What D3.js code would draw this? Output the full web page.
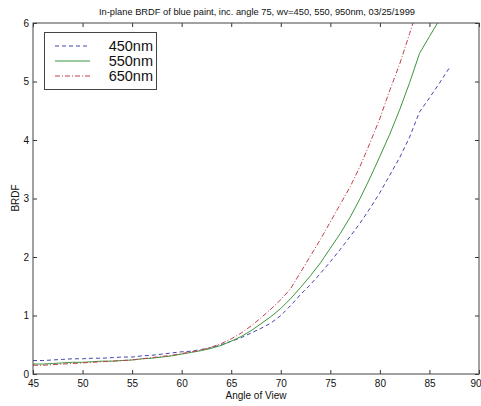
<!DOCTYPE html>
<html><head><meta charset="utf-8">
<script src="https://cdn.jsdelivr.net/npm/d3@7"></script>
<style>body{margin:0;background:#fff}svg{display:block}text{font-family:"Liberation Sans",Arial,sans-serif}</style>
</head><body>
<svg id="c" width="481" height="406"></svg>
<script>
const angles = d3.range(45, 88);
const nm450 = [0.23,0.23,0.24,0.25,0.26,0.26,0.27,0.27,0.28,0.29,0.29,0.31,0.32,0.34,0.36,0.38,0.39,0.42,0.45,0.50,0.56,0.62,0.70,0.78,0.87,1.00,1.17,1.36,1.53,1.72,1.92,2.13,2.35,2.58,2.83,3.10,3.40,3.70,4.05,4.48,4.72,4.97,5.23];
const nm550 = [0.17,0.17,0.18,0.19,0.20,0.20,0.21,0.22,0.22,0.23,0.24,0.26,0.27,0.29,0.31,0.34,0.37,0.40,0.44,0.49,0.56,0.64,0.74,0.86,0.98,1.12,1.29,1.48,1.68,1.90,2.15,2.40,2.68,3.00,3.35,3.72,4.10,4.52,4.98,5.48,5.77,6.05];
const nm650 = [0.15,0.15,0.16,0.17,0.18,0.19,0.20,0.21,0.22,0.23,0.24,0.26,0.28,0.30,0.32,0.35,0.38,0.41,0.46,0.52,0.60,0.70,0.82,0.96,1.11,1.27,1.46,1.74,2.02,2.30,2.60,2.90,3.20,3.55,3.95,4.37,4.85,5.30,5.82,6.35];
const seriesNames = ["450nm","550nm","650nm"];
const seriesColors = ["#4646b0","#3c963c","#c0404e"];
const seriesDash = ["4,3","none","5,2,1,2"];
const xTicks = [45,50,55,60,65,70,75,80,85,90];
const yTicks = [0,1,2,3,4,5,6];
const titleText = "In-plane BRDF of blue paint, inc. angle 75, wv=450, 550, 950nm, 03/25/1999";

const svg = d3.select("#c");
const L = 33, R = 479, T = 23, B = 374;
const x = d3.scaleLinear().domain([45,90]).range([L,R]);
const y = d3.scaleLinear().domain([0,6]).range([B,T]);

svg.append("defs").append("clipPath").attr("id","clip")
  .append("rect").attr("x",L).attr("y",T).attr("width",R-L).attr("height",B-T);

const all = [nm450, nm550, nm650];
const line = d3.line().x(d=>x(d[0])).y(d=>y(d[1]));
const g = svg.append("g").attr("clip-path","url(#clip)");
all.forEach((vals,i)=>{
  const pts = vals.map((v,j)=>[angles[j], v]);
  g.append("path").datum(pts).attr("d",line).attr("fill","none")
    .attr("stroke",seriesColors[i]).attr("stroke-width",1)
    .attr("stroke-dasharray",seriesDash[i]);
});

const fmt = d3.format("d");
const axB = d3.axisBottom(x).tickValues(xTicks).tickSizeInner(-4).tickSizeOuter(0).tickPadding(6).tickFormat(fmt);
const axT = d3.axisTop(x).tickValues(xTicks).tickSizeInner(-4).tickSizeOuter(0).tickFormat("");
const axL = d3.axisLeft(y).tickValues(yTicks).tickSizeInner(-4).tickSizeOuter(0).tickPadding(4).tickFormat(fmt);
const axR = d3.axisRight(y).tickValues(yTicks).tickSizeInner(-4).tickSizeOuter(0).tickFormat("");
[[axB,`translate(0,${B})`],[axT,`translate(0,${T})`],[axL,`translate(${L},0)`],[axR,`translate(${R},0)`]].forEach(([a,t],k)=>{
  const gg = svg.append("g").attr("transform",t).call(a);
  gg.selectAll("line").attr("stroke","#333");
  gg.select(".domain").remove();
  gg.selectAll("text").attr("font-family","'Liberation Sans',Arial,sans-serif").attr("font-size",10).attr("fill","#111");
  if (k === 0) gg.selectAll("text").filter(d=>d===90).attr("text-anchor","end").attr("dx",2);
});
svg.append("rect").attr("x",L).attr("y",T).attr("width",R-L).attr("height",B-T)
  .attr("fill","none").attr("stroke","#444").attr("stroke-width",1);

svg.append("text").attr("x",257).attr("y",15).attr("text-anchor","middle")
  .attr("font-size",9.3).attr("fill","#111").text(titleText);
svg.append("text").attr("x",256).attr("y",399).attr("text-anchor","middle")
  .attr("font-size",10).attr("fill","#111").text("Angle of View");
svg.append("text").attr("transform","translate(19,198) rotate(-90)").attr("text-anchor","middle")
  .attr("font-size",10).attr("fill","#111").text("BRDF");

const lg = svg.append("g");
lg.append("rect").attr("x",44.5).attr("y",32.5).attr("width",112).attr("height",57)
  .attr("fill","#fff").attr("stroke","#444");
seriesNames.forEach((n,i)=>{
  const yy = 46 + i*15;
  lg.append("line").attr("x1",55).attr("x2",90).attr("y1",yy).attr("y2",yy)
    .attr("stroke",seriesColors[i]).attr("stroke-dasharray",seriesDash[i]).attr("stroke-width",1);
  lg.append("text").attr("x",153).attr("y",yy+5).attr("text-anchor","end")
    .attr("font-size",14.5).attr("fill","#111").text(n);
});
</script>
</body></html>
